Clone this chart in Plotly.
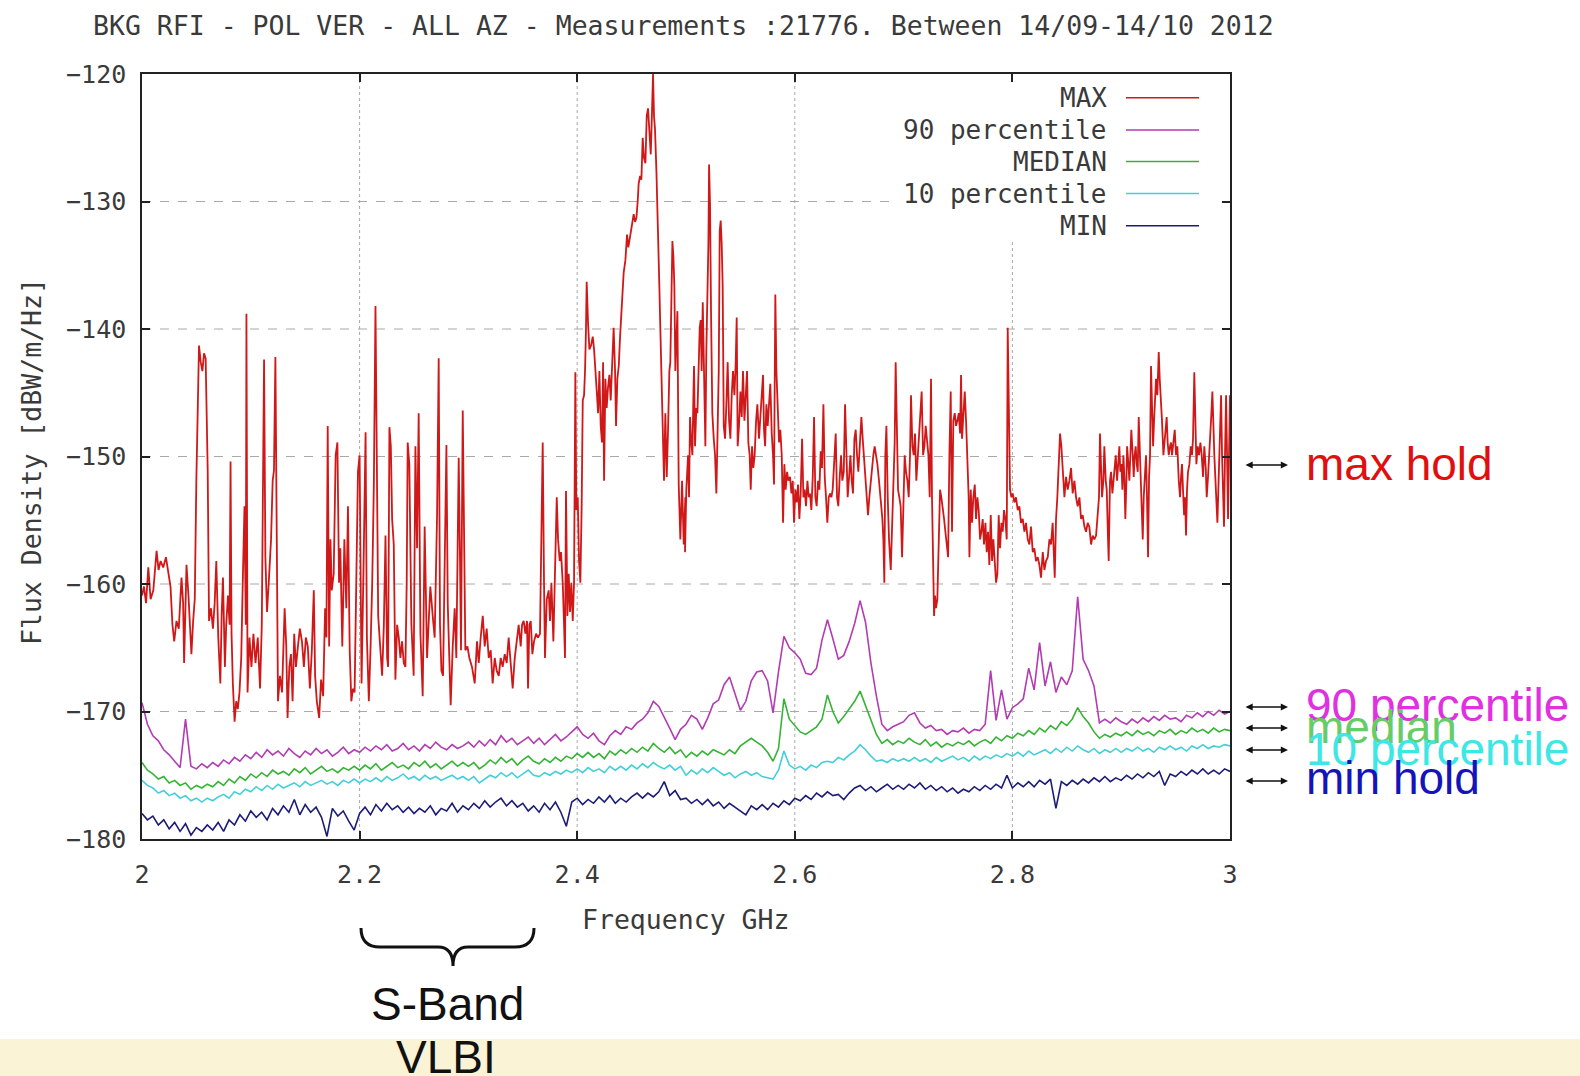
import plotly.graph_objects as go

# ---------------- data ----------------
MAX_F = [
 2.0000, 2.0018, 2.0037, 2.0058, 2.0079, 2.0104, 2.0134, 2.0152, 2.0171, 2.0195,
 2.0220, 2.0241, 2.0262, 2.0280, 2.0296, 2.0317, 2.0338, 2.0363, 2.0378, 2.0387,
 2.0409, 2.0427, 2.0439, 2.0454, 2.0470, 2.0485, 2.0500, 2.0515, 2.0524, 2.0540,
 2.0555, 2.0570, 2.0585, 2.0604, 2.0616, 2.0634, 2.0652, 2.0668, 2.0683, 2.0701,
 2.0720, 2.0732, 2.0744, 2.0762, 2.0774, 2.0790, 2.0805, 2.0814, 2.0823, 2.0835,
 2.0851, 2.0866, 2.0881, 2.0896, 2.0912, 2.0927, 2.0942, 2.0954, 2.0960, 2.0970,
 2.0988, 2.1006, 2.1024, 2.1043, 2.1064, 2.1085, 2.1101, 2.1110, 2.1122, 2.1134,
 2.1149, 2.1165, 2.1186, 2.1201, 2.1213, 2.1226, 2.1238, 2.1250, 2.1268, 2.1287,
 2.1311, 2.1326, 2.1338, 2.1354, 2.1369, 2.1384, 2.1399, 2.1415, 2.1433, 2.1451,
 2.1470, 2.1488, 2.1506, 2.1524, 2.1543, 2.1561, 2.1579, 2.1591, 2.1607, 2.1628,
 2.1646, 2.1665, 2.1683, 2.1695, 2.1707, 2.1720, 2.1732, 2.1744, 2.1762, 2.1780,
 2.1796, 2.1811, 2.1823, 2.1841, 2.1860, 2.1878, 2.1893, 2.1909, 2.1924, 2.1939,
 2.1954, 2.1970, 2.1985, 2.2000, 2.2009, 2.2018, 2.2037, 2.2055, 2.2067, 2.2085,
 2.2101, 2.2116, 2.2131, 2.2146, 2.2159, 2.2171, 2.2189, 2.2207, 2.2223, 2.2238,
 2.2253, 2.2262, 2.2274, 2.2287, 2.2299, 2.2314, 2.2329, 2.2345, 2.2360, 2.2375,
 2.2390, 2.2406, 2.2421, 2.2433, 2.2442, 2.2457, 2.2476,
 2.2497, 2.2513, 2.2528, 2.2543, 2.2559, 2.2580, 2.2598, 2.2620, 2.2635, 2.2650,
 2.2672, 2.2690, 2.2712, 2.2727, 2.2739, 2.2752, 2.2767, 2.2782, 2.2798, 2.2810,
 2.2825, 2.2837, 2.2856, 2.2874, 2.2889, 2.2911, 2.2923, 2.2932, 2.2948, 2.2960,
 2.2972, 2.2991, 2.3009, 2.3033, 2.3058, 2.3079, 2.3095, 2.3113, 2.3132, 2.3150,
 2.3168, 2.3187, 2.3205, 2.3223, 2.3242, 2.3260, 2.3279, 2.3297, 2.3315, 2.3334,
 2.3352, 2.3370, 2.3389, 2.3407, 2.3426, 2.3444, 2.3462, 2.3481, 2.3493, 2.3508,
 2.3524, 2.3539, 2.3548, 2.3560, 2.3573, 2.3588, 2.3603, 2.3622, 2.3640, 2.3658,
 2.3671, 2.3683, 2.3695, 2.3704, 2.3720, 2.3738, 2.3750, 2.3763, 2.3781, 2.3799,
 2.3812, 2.3824, 2.3839, 2.3851, 2.3867, 2.3879, 2.3888, 2.3897, 2.3910, 2.3922,
 2.3934, 2.3946, 2.3959, 2.3971, 2.3983, 2.3992, 2.4005, 2.4017, 2.4029, 2.4041,
 2.4051, 2.4063, 2.4072, 2.4081, 2.4087, 2.4100, 2.4112, 2.4127, 2.4143, 2.4155,
 2.4170, 2.4182, 2.4192, 2.4204, 2.4216, 2.4228, 2.4238, 2.4247, 2.4259, 2.4271,
 2.4283, 2.4296, 2.4308, 2.4320, 2.4335, 2.4348, 2.4357, 2.4369, 2.4382, 2.4394,
 2.4406, 2.4418, 2.4427, 2.4443, 2.4458, 2.4470, 2.4480, 2.4492, 2.4504, 2.4519,
 2.4532, 2.4544, 2.4556, 2.4565, 2.4578, 2.4590, 2.4602, 2.4614, 2.4627, 2.4639,
 2.4651, 2.4663, 2.4676, 2.4685, 2.4697, 2.4706, 2.4715, 2.4728, 2.4737, 2.4746,
 2.4755, 2.4764, 2.4774, 2.4786, 2.4798, 2.4810, 2.4823, 2.4835, 2.4847, 2.4856,
 2.4866, 2.4875, 2.4884, 2.4893, 2.4902, 2.4911, 2.4921, 2.4933, 2.4948, 2.4964, 2.4979, 2.4994,
 2.4991, 2.5003, 2.5019, 2.5028, 2.5037, 2.5049, 2.5059, 2.5068, 2.5074, 2.5083,
 2.5095, 2.5105, 2.5117, 2.5126, 2.5135, 2.5144, 2.5154, 2.5166, 2.5178, 2.5187,
 2.5196, 2.5206, 2.5212, 2.5221, 2.5230, 2.5242, 2.5255, 2.5267, 2.5279, 2.5291,
 2.5301, 2.5310, 2.5319, 2.5328, 2.5337, 2.5347, 2.5359, 2.5371, 2.5383, 2.5396,
 2.5408, 2.5420, 2.5432, 2.5445, 2.5457, 2.5466, 2.5475, 2.5487, 2.5500, 2.5512,
 2.5524, 2.5537, 2.5549, 2.5561, 2.5573, 2.5585, 2.5595, 2.5607, 2.5619, 2.5631,
 2.5644, 2.5656, 2.5671, 2.5687, 2.5699, 2.5708, 2.5717, 2.5727, 2.5739, 2.5751,
 2.5763, 2.5775, 2.5788, 2.5800, 2.5809, 2.5821, 2.5831, 2.5843, 2.5855, 2.5867,
 2.5880, 2.5892, 2.5904, 2.5916, 2.5929, 2.5941, 2.5956, 2.5969, 2.5981, 2.5993,
 2.6005, 2.6018, 2.6030, 2.6042, 2.6054, 2.6067, 2.6079, 2.6091, 2.6103, 2.6116,
 2.6128, 2.6140, 2.6152, 2.6165, 2.6177, 2.6189, 2.6201, 2.6214, 2.6226, 2.6238,
 2.6250, 2.6263, 2.6275, 2.6287, 2.6299, 2.6312, 2.6324, 2.6336, 2.6348, 2.6361,
 2.6376, 2.6388, 2.6400, 2.6413, 2.6425, 2.6437, 2.6450, 2.6462, 2.6474, 2.6486,
 2.6499, 2.6511, 2.6523, 2.6535, 2.6548, 2.6560, 2.6572, 2.6584, 2.6597, 2.6612,
 2.6624, 2.6636, 2.6649, 2.6661, 2.6673, 2.6685, 2.6698, 2.6710, 2.6722, 2.6734,
 2.6747, 2.6759, 2.6774, 2.6790, 2.6805, 2.6814, 2.6823, 2.6832, 2.6842, 2.6854,
 2.6866, 2.6882, 2.6894, 2.6906, 2.6918, 2.6927, 2.6937, 2.6949, 2.6961, 2.6973,
 2.6986, 2.6998, 2.7010, 2.7022, 2.7035, 2.7047, 2.7059, 2.7068, 2.7081, 2.7093,
 2.7105, 2.7117, 2.7130, 2.7142, 2.7154, 2.7166, 2.7179, 2.7191, 2.7203, 2.7215,
 2.7228, 2.7240, 2.7252, 2.7261, 2.7271, 2.7280, 2.7289, 2.7298, 2.7310, 2.7323,
 2.7335, 2.7347, 2.7360, 2.7372, 2.7384, 2.7396, 2.7409, 2.7421, 2.7433, 2.7445, 2.7457, 2.7470, 2.7482,
 2.7494, 2.7507, 2.7519, 2.7528, 2.7537, 2.7549, 2.7562, 2.7574, 2.7586, 2.7598,
 2.7605, 2.7617, 2.7629, 2.7641, 2.7654, 2.7666, 2.7678, 2.7690, 2.7703, 2.7715,
 2.7727, 2.7739, 2.7752, 2.7764, 2.7776, 2.7788, 2.7801, 2.7813, 2.7825, 2.7837,
 2.7850, 2.7862, 2.7874, 2.7886, 2.7899, 2.7911, 2.7923, 2.7935, 2.7948, 2.7957,
 2.7966, 2.7978, 2.7991, 2.8003, 2.8018, 2.8033, 2.8049, 2.8064, 2.8079, 2.8095,
 2.8110, 2.8125, 2.8141, 2.8156, 2.8171, 2.8187, 2.8202, 2.8217, 2.8233, 2.8248,
 2.8263, 2.8279, 2.8294, 2.8309, 2.8325, 2.8340, 2.8355, 2.8370, 2.8389, 2.8401,
 2.8413, 2.8426, 2.8438, 2.8450, 2.8462, 2.8478, 2.8493, 2.8508, 2.8524, 2.8539,
 2.8554, 2.8570, 2.8585, 2.8600, 2.8616, 2.8631, 2.8646, 2.8662, 2.8677, 2.8692,
 2.8707, 2.8723, 2.8738, 2.8753, 2.8769, 2.8784, 2.8796, 2.8805, 2.8815, 2.8824,
 2.8836, 2.8845, 2.8858, 2.8867, 2.8879, 2.8885, 2.8897, 2.8907, 2.8919, 2.8928,
 2.8940, 2.8950, 2.8962, 2.8971, 2.8983, 2.8992, 2.9002, 2.9011, 2.9020, 2.9029,
 2.9038, 2.9048, 2.9054, 2.9066, 2.9075, 2.9084, 2.9093, 2.9106, 2.9115, 2.9124,
 2.9133, 2.9143, 2.9152, 2.9161, 2.9173, 2.9185, 2.9198, 2.9207, 2.9216, 2.9228,
 2.9237, 2.9247, 2.9256, 2.9265, 2.9274, 2.9283, 2.9293, 2.9302, 2.9311, 2.9320,
 2.9332, 2.9345, 2.9354, 2.9363, 2.9375, 2.9388, 2.9397, 2.9406, 2.9418, 2.9427,
 2.9437, 2.9449, 2.9458, 2.9467, 2.9480, 2.9492, 2.9504, 2.9516, 2.9529, 2.9541,
 2.9550, 2.9559, 2.9568, 2.9578, 2.9587, 2.9596, 2.9605, 2.9614, 2.9627, 2.9639,
 2.9651, 2.9660, 2.9672, 2.9682, 2.9691, 2.9703, 2.9715, 2.9728, 2.9740, 2.9752,
 2.9764, 2.9777, 2.9786, 2.9798, 2.9810, 2.9820, 2.9829, 2.9838, 2.9847, 2.9856,
 2.9865, 2.9875, 2.9884, 2.9893, 2.9902, 2.9911, 2.9918, 2.9927, 2.9936, 2.9945, 2.9954, 2.9964, 2.9973, 2.9982, 2.9991, 3.0000,
]
MAX_DB = [
 -160.9, -160.2, -161.5, -158.7, -161.2, -160.5, -157.4, -158.9, -158.2, -158.7,
 -157.9, -159.2, -160.2, -163.2, -164.5, -162.9, -163.5, -159.5, -161.5, -166.2,
 -158.5, -160.9, -162.9, -165.5, -162.9, -161.2, -151.6, -143.3, -141.3, -142.6,
 -143.3, -141.9, -142.3, -151.2, -162.9, -161.9, -163.5, -161.5, -158.2, -164.2,
 -167.8, -162.5, -159.5, -166.5, -163.2, -160.9, -163.2, -150.4, -163.9, -167.8,
 -170.8, -169.2, -169.8, -168.5, -165.8, -159.5, -153.9, -163.2, -138.8, -168.5,
 -164.2, -166.5, -163.9, -166.2, -164.2, -168.2, -163.2, -154.2, -142.4, -157.9,
 -162.2, -159.9, -156.5, -151.9, -151.1, -142.2, -155.9, -169.2, -167.2, -168.5,
 -161.9, -164.9, -170.5, -166.5, -165.5, -169.2, -163.9, -166.5, -164.9, -163.5,
 -164.5, -166.5, -164.2, -164.9, -168.2, -165.2, -160.5, -167.2, -169.2, -170.5,
 -167.5, -168.8, -161.9, -164.2, -147.6, -164.9, -156.5, -160.5, -159.2, -149.9,
 -148.9, -159.9, -157.2, -164.9, -156.5, -161.9, -153.9, -165.2, -169.2, -168.2,
 -168.5, -160.5, -151.2, -149.9, -163.2, -167.8, -158.2, -148.1, -164.2, -169.2,
 -164.9, -159.9, -152.2, -138.2, -150.9, -162.5, -164.9, -167.2, -163.2, -156.2,
 -165.8, -166.5, -147.7, -149.2, -154.9, -156.9, -167.5, -163.2, -164.2, -165.8,
 -164.5, -166.2, -166.5, -159.9, -148.9, -150.6, -163.2,
 -167.2, -149.2, -157.2, -146.6, -163.9, -168.8, -155.5, -165.8, -162.5, -160.2,
 -162.5, -164.2, -154.6, -142.3, -163.2, -166.8, -167.2, -157.2, -149.1, -161.5,
 -165.8, -169.5, -164.9, -161.9, -165.8, -150.1, -158.2, -165.2, -146.4, -155.9,
 -165.2, -164.9, -165.8, -166.5, -167.8, -164.5, -166.2, -164.2, -162.5, -164.9,
 -163.5, -165.8, -165.2, -167.8, -165.8, -166.8, -167.2, -165.8, -166.5, -165.5,
 -166.2, -164.2, -166.5, -168.2, -165.8, -164.2, -163.2, -164.9, -163.2, -162.9,
 -163.9, -162.9, -168.2, -163.2, -162.9, -165.5, -164.5, -163.9, -164.2, -163.9,
 -155.2, -148.9, -159.9, -165.8, -161.2, -160.5, -162.9, -159.9, -164.5, -157.5,
 -153.2, -156.5, -158.2, -157.5, -159.9, -163.2, -165.8, -152.7, -162.5, -159.2,
 -162.2, -159.9, -162.9, -159.9, -143.4, -154.2, -153.2, -158.2, -159.9, -153.9,
 -145.6, -145.2, -143.3, -139.9, -136.3, -139.6, -141.6, -141.3, -140.6, -141.6,
 -143.3, -145.2, -146.6, -143.3, -147.6, -148.9, -142.6, -151.9, -143.9, -146.2,
 -144.6, -143.6, -145.6, -143.3, -139.9, -143.3, -147.6, -143.9, -142.9, -140.6,
 -138.6, -136.6, -135.6, -134.6, -132.6, -133.6, -133.1, -132.3, -132.0, -131.0,
 -131.6, -131.3, -130.0, -128.6, -128.0, -128.3, -125.0, -126.6, -127.0, -123.3,
 -122.7, -124.3, -126.3, -123.7, -120.0, -123.3, -124.3, -127.6, -130.0, -133.0,
 -136.6, -139.9, -143.3, -148.2, -151.9, -146.6, -151.6, -147.9, -143.3, -142.6,
 -136.6, -133.1, -134.3, -136.6, -143.3, -140.6, -138.6, -152.2, -156.5, -151.9, -156.9, -153.2,
 -157.5, -152.6, -149.9, -153.2, -146.9, -148.9, -149.9, -145.2, -142.9, -149.2,
 -146.2, -146.6, -141.3, -139.9, -139.3, -143.3, -137.9, -143.3, -149.2, -141.6,
 -138.6, -133.3, -127.1, -130.3, -138.6, -146.6, -148.6, -149.9, -152.9, -148.2,
 -143.3, -132.3, -131.5, -133.3, -136.6, -147.6, -148.6, -145.9, -142.6, -147.2,
 -148.6, -145.2, -143.3, -145.2, -142.6, -139.1, -149.2, -147.6, -144.9, -146.9,
 -143.3, -147.2, -145.2, -143.3, -148.9, -149.9, -152.6, -149.2, -150.9, -149.9,
 -147.2, -145.9, -148.6, -146.6, -145.2, -143.6, -147.9, -149.2, -145.9, -147.6,
 -145.9, -144.3, -148.2, -149.9, -152.2, -137.3, -143.3, -147.2, -148.9, -147.9,
 -149.9, -155.2, -150.6, -152.6, -151.2, -151.9, -151.6, -152.9, -151.9, -155.2,
 -152.6, -153.6, -152.2, -154.9, -152.9, -148.6, -153.2, -152.6, -153.9, -151.9,
 -153.2, -152.9, -154.2, -151.6, -146.9, -153.2, -153.9, -151.9, -152.6, -149.6,
 -150.9, -145.9, -151.6, -153.2, -155.2, -153.2, -152.9, -153.2, -152.6, -150.6,
 -148.2, -153.2, -153.9, -151.6, -149.9, -151.9, -151.2, -145.9, -149.9, -153.2,
 -151.6, -149.9, -151.9, -152.9, -148.6, -147.9, -149.9, -151.2, -149.2, -146.9,
 -148.6, -149.9, -151.9, -153.2, -154.6, -153.2, -151.9, -150.6, -149.9, -149.2,
 -149.9, -150.6, -151.9, -153.2, -154.9, -156.5, -159.9, -149.9, -147.6, -153.2,
 -156.5, -158.9, -154.9, -151.6, -148.9, -142.6, -148.2, -152.6, -153.2, -153.9,
 -157.9, -152.6, -149.9, -151.2, -151.9, -153.2, -149.9, -145.2, -149.2, -149.9,
 -148.2, -151.9, -149.9, -148.9, -146.6, -144.9, -149.9, -149.2, -147.6, -148.9,
 -149.9, -153.2, -143.9, -153.2, -158.2, -162.5, -160.9, -161.9, -161.2, -156.5,
 -152.6, -153.2, -153.9, -154.9, -155.9, -157.2, -157.9, -149.9, -144.9, -155.9, -147.2, -146.6, -147.6,
 -147.2, -146.6, -148.2, -143.6, -148.6, -146.6, -144.9, -147.2, -149.9, -153.2,
 -157.9, -152.6, -155.2, -153.2, -152.2, -154.9, -153.2, -154.2, -156.5, -155.9,
 -154.9, -156.9, -155.2, -157.5, -155.9, -158.5, -154.6, -158.2, -156.5, -157.9,
 -159.9, -159.2, -154.6, -157.2, -155.2, -155.9, -154.2, -154.9, -156.5, -139.9,
 -145.6, -152.6, -153.2, -152.9, -153.6, -153.2, -154.2, -153.9, -155.2, -154.9,
 -155.9, -155.2, -156.5, -156.9, -155.5, -157.5, -157.2, -158.2, -157.9, -158.5,
 -159.5, -157.5, -158.9, -158.2, -157.9, -156.5, -156.9, -155.2, -159.5, -154.9,
 -153.2, -150.6, -148.2, -149.2, -151.2, -153.2, -151.6, -152.6, -151.9, -150.9,
 -152.9, -151.9, -153.2, -153.9, -153.2, -154.9, -154.6, -155.5, -155.9, -155.2,
 -155.5, -156.9, -156.2, -156.5, -156.2, -154.6, -153.2, -148.2, -151.6, -153.2,
 -151.9, -149.2, -151.9, -152.6, -156.5, -158.2, -151.9, -151.2, -152.9, -151.9,
 -150.6, -149.9, -151.9, -150.9, -149.2, -151.2, -150.6, -152.6, -149.9, -151.6,
 -154.9, -151.9, -149.2, -150.6, -151.9, -149.9, -147.9, -149.9, -151.6, -149.9,
 -149.2, -150.6, -151.2, -146.9, -149.9, -151.6, -156.5, -153.2, -151.6, -149.9,
 -153.2, -157.9, -151.6, -149.9, -142.9, -146.6, -149.2, -147.2, -145.2, -143.9,
 -145.2, -141.8, -143.9, -145.9, -147.2, -149.9, -148.9, -148.2, -146.9, -148.9,
 -149.9, -149.2, -148.9, -149.9, -148.6, -147.9, -149.9, -149.2, -151.9, -153.2,
 -151.6, -150.6, -152.6, -154.6, -153.2, -156.2, -152.6, -151.2, -150.6, -149.2,
 -149.9, -148.6, -143.4, -148.2, -150.6, -149.2, -149.9, -148.9, -149.9, -151.6,
 -149.2, -150.9, -153.2, -151.6, -149.9, -148.2, -146.6, -144.9, -148.2, -149.9,
 -151.6, -153.2, -155.2, -152.6, -149.9, -146.6, -145.2, -149.9, -153.2, -155.5, -149.9, -145.2, -149.9, -154.9, -149.9, -145.2,
]

LOW_F = [
 2.000, 2.005, 2.010, 2.015, 2.020, 2.025, 2.030, 2.035, 2.040, 2.045, 2.050, 2.055, 2.060, 2.065, 2.070, 2.075, 2.080, 2.085, 2.090, 2.095,
 2.100, 2.105, 2.110, 2.115, 2.120, 2.125, 2.130, 2.135, 2.140, 2.145, 2.150, 2.155, 2.160, 2.165, 2.170, 2.175, 2.180, 2.185, 2.190, 2.195,
 2.200, 2.205, 2.210, 2.215, 2.220, 2.225, 2.230, 2.235, 2.240, 2.245, 2.250, 2.255, 2.260, 2.265, 2.270, 2.275, 2.280, 2.285, 2.290, 2.295,
 2.300, 2.305, 2.310, 2.315, 2.320, 2.325, 2.330, 2.335, 2.340, 2.345, 2.350, 2.355, 2.360, 2.365, 2.370, 2.375, 2.380, 2.385, 2.390, 2.395,
 2.400, 2.405, 2.410, 2.415, 2.420, 2.425, 2.430, 2.435, 2.440, 2.445, 2.450, 2.455, 2.460, 2.465, 2.470, 2.475, 2.480, 2.485, 2.490, 2.495,
 2.500, 2.505, 2.510, 2.515, 2.520, 2.525, 2.530, 2.535, 2.540, 2.545, 2.550, 2.555, 2.560, 2.565, 2.570, 2.575, 2.580, 2.585, 2.590, 2.595,
 2.600, 2.605, 2.610, 2.615, 2.620, 2.625, 2.630, 2.635, 2.640, 2.645, 2.650, 2.655, 2.660, 2.665, 2.670, 2.675, 2.680, 2.685, 2.690, 2.695,
 2.700, 2.705, 2.710, 2.715, 2.720, 2.725, 2.730, 2.735, 2.740, 2.745, 2.750, 2.755, 2.760, 2.765, 2.770, 2.775, 2.780, 2.785, 2.790, 2.795,
 2.800, 2.805, 2.810, 2.815, 2.820, 2.825, 2.830, 2.835, 2.840, 2.845, 2.850, 2.855, 2.860, 2.865, 2.870, 2.875, 2.880, 2.885, 2.890, 2.895,
 2.900, 2.905, 2.910, 2.915, 2.920, 2.925, 2.930, 2.935, 2.940, 2.945, 2.950, 2.955, 2.960, 2.965, 2.970, 2.975, 2.980, 2.985, 2.990, 2.995,
 3.000,
]
P90_DB = [
 -169.3, -171.0, -171.9, -172.3, -173.0, -173.4, -173.9, -174.4, -170.6, -174.3, -174.5, -174.1, -174.4, -174.0, -174.3, -173.8, -174.1, -173.6, -173.9, -173.4,
 -173.7, -173.2, -173.6, -173.0, -173.4, -173.1, -173.5, -172.9, -173.3, -173.6, -173.1, -173.4, -172.9, -173.3, -173.0, -173.5, -173.2, -172.8, -173.3, -173.0,
 -173.2, -172.8, -173.1, -172.7, -173.0, -172.6, -173.1, -172.9, -172.5, -173.0, -172.7, -173.1, -172.6, -172.9, -172.4, -172.8, -173.0, -172.6, -172.9, -172.7,
 -172.4, -172.8, -172.3, -172.7, -172.2, -172.6, -171.9, -172.4, -172.1, -172.6, -172.3, -172.0, -172.5, -172.1, -172.6, -172.2, -171.8, -172.3, -172.0, -171.6,
 -171.2, -171.8, -172.1, -171.7, -172.3, -172.6, -171.9, -171.5, -171.8, -171.2, -171.4, -170.9, -170.6, -170.1, -169.2, -169.6, -170.4, -171.3, -172.2, -171.4,
 -171.0, -170.3, -170.6, -171.4, -170.5, -169.4, -169.1, -167.9, -167.3, -168.6, -169.9, -169.2, -167.6, -166.9, -166.8, -167.6, -170.1, -166.9, -164.1, -165.0,
 -165.4, -165.9, -167.0, -167.1, -166.6, -164.4, -162.8, -164.3, -165.9, -165.6, -164.5, -163.1, -161.3, -163.0, -166.2, -168.8, -171.0, -171.5, -171.2, -171.0,
 -170.8, -170.3, -170.1, -170.9, -171.3, -171.1, -171.5, -171.4, -171.8, -171.5, -171.6, -171.3, -171.7, -171.4, -171.5, -171.0, -166.8, -170.7, -168.3, -170.6,
 -169.7, -169.4, -169.0, -166.6, -168.3, -164.6, -168.0, -166.1, -168.5, -167.3, -167.9, -166.8, -161.0, -165.9, -166.8, -168.0, -170.9, -170.6, -170.9, -170.5,
 -170.8, -171.0, -170.6, -170.9, -170.5, -170.8, -170.4, -170.7, -170.3, -170.6, -170.5, -170.8, -170.3, -170.5, -170.1, -170.4, -170.0, -170.3, -169.9, -170.2,
 -170.0,
]
MED_DB = [
 -174.0, -174.6, -174.9, -175.3, -175.1, -175.6, -175.4, -175.8, -175.6, -176.1, -175.8, -176.0, -175.7, -175.9, -175.5, -175.8, -175.3, -175.6, -175.1, -175.4,
 -174.9, -175.2, -174.8, -175.1, -174.6, -174.9, -174.7, -175.0, -174.5, -174.8, -174.4, -174.9, -174.6, -174.3, -174.7, -174.5, -174.8, -174.4, -174.6, -174.3,
 -174.6, -174.2, -174.5, -174.1, -174.6, -174.3, -174.0, -174.4, -174.2, -174.5, -174.0, -174.3, -173.9, -174.4, -174.1, -174.5, -174.2, -173.9, -174.3, -174.0,
 -174.3, -174.0, -174.5, -174.2, -173.8, -174.1, -173.6, -174.0, -173.7, -174.2, -173.8, -173.5, -173.9, -174.1, -173.7, -174.0, -173.6, -173.9, -173.5, -173.7,
 -173.3, -173.6, -173.2, -173.6, -173.3, -173.7, -173.1, -173.4, -173.0, -173.3, -172.9, -173.2, -172.8, -173.1, -172.5, -172.9, -173.2, -172.8, -173.3, -173.0,
 -173.6, -173.2, -173.5, -173.1, -173.4, -173.0, -173.2, -173.4, -173.0, -173.3, -172.7, -172.4, -172.1, -172.4, -172.7, -173.2, -173.9, -172.9, -169.0, -170.6,
 -171.1, -171.6, -171.8, -171.5, -171.2, -170.6, -168.7, -170.0, -170.9, -170.4, -169.8, -169.2, -168.4, -169.5, -170.6, -171.8, -172.5, -172.2, -172.6, -172.3,
 -172.5, -172.1, -172.4, -172.6, -172.2, -172.7, -172.4, -172.8, -172.5, -172.7, -172.4, -172.6, -172.3, -172.7, -172.4, -172.2, -172.5, -172.0, -172.3, -171.9,
 -172.1, -171.7, -171.9, -171.5, -171.8, -171.3, -171.6, -171.1, -171.4, -170.8, -171.1, -170.6, -169.7, -170.4, -170.9, -171.6, -172.1, -171.8, -172.0, -171.7,
 -171.9, -171.6, -171.9, -171.5, -171.8, -171.6, -171.9, -171.5, -171.7, -171.4, -171.8, -171.5, -171.7, -171.3, -171.6, -171.4, -171.7, -171.3, -171.6, -171.4,
 -171.5,
]
P10_DB = [
 -175.4, -175.8, -176.0, -176.4, -176.2, -176.6, -176.4, -176.8, -176.6, -177.0, -176.8, -177.1, -176.8, -177.0, -176.7, -176.5, -176.8, -176.3, -176.5, -176.1,
 -176.3, -175.9, -176.2, -175.8, -176.1, -175.7, -176.0, -175.8, -175.6, -175.9, -175.5, -175.8, -175.6, -175.4, -175.7, -175.5, -175.8, -175.4, -175.6, -175.3,
 -175.6, -175.3, -175.5, -175.2, -175.5, -175.1, -175.4, -175.2, -174.9, -175.3, -175.1, -175.4, -175.0, -175.3, -175.1, -175.4, -175.2, -175.0, -175.3, -175.1,
 -175.4, -175.1, -175.6, -175.3, -175.0, -175.2, -174.8, -175.1, -174.8, -175.2, -174.9, -174.6, -175.0, -175.1, -174.8, -175.0, -174.7, -174.9, -174.6, -174.8,
 -174.5, -174.8, -174.4, -174.7, -174.5, -174.8, -174.3, -174.6, -174.3, -174.6, -174.2, -174.5, -174.1, -174.4, -174.0, -174.3, -174.5, -174.2, -174.6, -174.3,
 -175.0, -174.6, -174.9, -174.5, -174.8, -174.4, -174.7, -175.0, -174.8, -175.2, -174.9, -174.7, -175.0, -174.8, -175.1, -175.2, -175.3, -174.6, -173.1, -174.2,
 -174.5, -174.3, -174.6, -174.2, -174.4, -174.0, -173.9, -174.0, -173.6, -173.8, -173.4, -173.1, -172.6, -173.0, -173.5, -173.9, -173.8, -174.0, -173.7, -173.9,
 -173.7, -173.9, -173.6, -173.9, -173.7, -174.0, -173.6, -173.9, -173.7, -173.5, -173.8, -173.6, -173.9, -173.5, -173.8, -173.5, -173.7, -173.4, -173.6, -173.3,
 -173.5, -173.2, -173.5, -173.1, -173.4, -173.2, -173.0, -173.3, -172.9, -173.2, -172.8, -173.1, -172.7, -173.0, -173.2, -172.9, -173.3, -173.0, -173.2, -172.9,
 -173.2, -172.9, -173.1, -172.8, -173.1, -172.9, -173.2, -172.8, -173.0, -172.7, -173.0, -172.8, -173.1, -172.7, -172.9, -172.6, -172.9, -172.7, -172.8, -172.6,
 -172.7,
]
MIN_DB = [
 -178.0, -178.5, -178.2, -178.9, -178.5, -179.2, -178.7, -179.4, -178.8, -179.7, -179.1, -179.4, -178.9, -179.3, -178.7, -179.4, -178.5, -178.9, -178.1, -178.6,
 -177.8, -178.3, -177.9, -178.5, -177.6, -178.1, -177.4, -177.9, -176.9, -178.1, -177.3, -177.9, -177.5, -178.3, -179.8, -177.6, -178.2, -177.8, -178.6, -179.3,
 -178.0, -177.5, -178.1, -177.3, -177.8, -177.2, -177.7, -177.4, -177.9, -177.5, -178.0, -177.6, -177.9, -177.4, -178.1, -177.6, -177.8, -177.2, -177.9, -177.4,
 -177.7, -177.2, -177.6, -177.0, -177.5, -177.1, -176.8, -177.4, -177.0, -177.5, -177.2, -177.8, -177.4, -177.9, -177.2, -177.7, -177.1, -177.9, -179.0, -177.1,
 -176.8, -177.3, -176.9, -177.2, -176.7, -177.1, -176.6, -177.2, -176.8, -177.1, -176.7, -176.4, -176.8, -176.4, -176.7, -176.3, -175.5, -176.6, -176.2, -176.9,
 -176.8, -177.2, -176.9, -177.3, -176.9, -177.4, -177.1, -177.6, -177.2, -177.5, -177.8, -178.1, -177.4, -177.7, -177.3, -177.7, -177.2, -177.5, -177.0, -177.3,
 -176.8, -177.0, -176.6, -176.9, -176.4, -176.7, -176.3, -176.6, -176.5, -176.9, -176.4, -176.0, -175.8, -176.2, -175.9, -176.3, -176.0, -175.7, -176.1, -175.8,
 -176.1, -175.7, -176.0, -175.6, -176.1, -175.8, -176.2, -175.9, -176.3, -176.0, -176.4, -176.1, -176.3, -175.9, -176.2, -175.8, -176.1, -175.7, -176.0, -175.0,
 -176.0, -175.6, -175.9, -175.5, -175.9, -175.4, -175.7, -175.3, -177.6, -175.5, -175.8, -175.4, -175.7, -175.3, -175.6, -175.2, -175.5, -175.1, -175.5, -175.2,
 -175.4, -175.0, -175.3, -174.9, -175.2, -174.8, -175.1, -174.7, -175.8, -174.9, -175.1, -174.7, -175.0, -174.6, -174.9, -174.5, -174.9, -174.6, -174.9, -174.5,
 -174.7,
]

SERIES_NAMES = ["MAX", "90 percentile", "MEDIAN", "10 percentile", "MIN"]
X_TICKS = [2.0, 2.2, 2.4, 2.6, 2.8, 3.0]
X_TICK_TEXT = ["2", "2.2", "2.4", "2.6", "2.8", "3"]
Y_TICKS = [-180, -170, -160, -150, -140, -130, -120]
SIDE_LABELS = ["max hold", "90 percentile", "median", "10 percentile", "min hold"]
TITLE = "BKG RFI - POL VER - ALL AZ - Measurements :21776. Between 14/09-14/10 2012"

# ---------------- styling ----------------
COLORS = ["#d01818", "#b23cb2", "#34b434", "#44cfd8", "#1c1c78"]
WIDTHS = [1.8, 1.6, 1.6, 1.6, 1.6]
SIDE_COLORS = ["#e01010", "#e030e0", "#66cc66", "#3ee6e6", "#1414b8"]
MONO = "DejaVu Sans Mono"
SANS = "Liberation Sans, Arial, sans-serif"
TXT = "#3a3a3a"
GRID = "#a8a8a8"

W, H = 1580, 1076
L, R, T, B = 142, 1230, 74, 839      # plot area in pixels
KEY_LEFT, KEY_BOTTOM = 893, 240      # opaque key region (pixels)


def px(x):
    return (x - L) / (R - L)


def py(y):
    return (B - y) / (B - T)


fig = go.Figure()
series = [(MAX_F, MAX_DB), (LOW_F, P90_DB), (LOW_F, MED_DB), (LOW_F, P10_DB), (LOW_F, MIN_DB)]
for (xs, ys), name, col, wd in zip(series, SERIES_NAMES, COLORS, WIDTHS):
    fig.add_trace(go.Scatter(x=xs, y=ys, mode="lines", name=name,
                             line=dict(color=col, width=wd), showlegend=False,
                             hoverinfo="skip"))

shapes = []
annotations = []

# beige band at the bottom of the page
shapes.append(dict(type="rect", xref="paper", yref="paper",
                   x0=px(0), x1=px(W), y0=py(1039), y1=py(H + 5),
                   fillcolor="#fbf3d6", line=dict(width=0), layer="below"))

# grid lines (stop at the key box like gnuplot)
y_top = Y_TICKS[-1]
for v in Y_TICKS[1:-1]:
    x_end = px(KEY_LEFT) if py(KEY_BOTTOM) < (v - Y_TICKS[0]) / (y_top - Y_TICKS[0]) else 1
    shapes.append(dict(type="line", xref="paper", yref="y", x0=0, x1=x_end, y0=v, y1=v,
                       line=dict(color=GRID, width=1, dash="dash"), layer="below"))
for f in X_TICKS[1:-1]:
    y_end = py(KEY_BOTTOM) if (f - X_TICKS[0]) / (X_TICKS[-1] - X_TICKS[0]) > px(KEY_LEFT) else 1
    shapes.append(dict(type="line", xref="x", yref="paper", x0=f, x1=f, y0=0, y1=y_end,
                       line=dict(color=GRID, width=1, dash="dot"), layer="below"))

# key
key_rows = [97.7, 130, 161.5, 193.5, 225.7]
for name, col, yy in zip(SERIES_NAMES, COLORS, key_rows):
    annotations.append(dict(xref="paper", yref="paper", x=px(1109), y=py(yy),
                            xanchor="right", yanchor="middle", showarrow=False,
                            text=name, font=dict(family=MONO, size=26, color=TXT)))
    shapes.append(dict(type="line", xref="paper", yref="paper",
                       x0=px(1126), x1=px(1199), y0=py(yy), y1=py(yy),
                       line=dict(color=col, width=1.5)))

# title and axis titles
annotations.append(dict(xref="paper", yref="paper", x=px(683), y=py(25),
                        xanchor="center", yanchor="middle", showarrow=False,
                        text=TITLE, font=dict(family=MONO, size=26.5, color=TXT)))
annotations.append(dict(xref="paper", yref="paper", x=px(685), y=py(919),
                        xanchor="center", yanchor="middle", showarrow=False,
                        text="Frequency GHz", font=dict(family=MONO, size=26.5, color=TXT)))
annotations.append(dict(xref="paper", yref="paper", x=px(31), y=py(462),
                        xanchor="center", yanchor="middle", showarrow=False, textangle=-90,
                        text="Flux Density [dBW/m/Hz]", font=dict(family=MONO, size=26.5, color=TXT)))

# side labels with double arrows
side_text_y = [463.5, 705, 727, 748.5, 778]
side_arrow_y = [465, 707, 728, 750, 781]
for lab, col, ty, ay in zip(SIDE_LABELS, SIDE_COLORS, side_text_y, side_arrow_y):
    annotations.append(dict(xref="paper", yref="paper", x=px(1288), y=py(ay),
                            ax=-44, ay=0, axref="pixel", ayref="pixel",
                            showarrow=True, arrowside="end+start", arrowhead=2,
                            arrowsize=0.9, arrowwidth=1.6, arrowcolor="#111111", text=""))
    annotations.append(dict(xref="paper", yref="paper", x=px(1304), y=py(ty),
                            xanchor="left", yanchor="middle", showarrow=False,
                            text=lab, font=dict(family=SANS, size=46, color=col)))

# S-Band brace and label
bx = [361, 380, 438, 453, 468, 515, 534]
by_top, by_mid, by_tip = 928, 947, 966
path = (f"M {px(bx[0])},{py(by_top)} Q {px(bx[0])},{py(by_mid)} {px(bx[1])},{py(by_mid)} "
        f"L {px(bx[2])},{py(by_mid)} Q {px(bx[3])},{py(by_mid)} {px(bx[3])},{py(by_tip)} "
        f"Q {px(bx[3])},{py(by_mid)} {px(bx[4])},{py(by_mid)} "
        f"L {px(bx[5])},{py(by_mid)} Q {px(bx[6])},{py(by_mid)} {px(bx[6])},{py(by_top)}")
shapes.append(dict(type="path", xref="paper", yref="paper", path=path,
                   line=dict(color="#111111", width=3)))
annotations.append(dict(xref="paper", yref="paper", x=px(447), y=py(1004),
                        xanchor="center", yanchor="middle", showarrow=False,
                        text="S-Band", font=dict(family=SANS, size=46, color="#111111")))
annotations.append(dict(xref="paper", yref="paper", x=px(446), y=py(1057),
                        xanchor="center", yanchor="middle", showarrow=False,
                        text="VLBI", font=dict(family=SANS, size=46, color="#111111")))

fig.update_layout(
    width=W, height=H,
    margin=dict(l=L, r=W - R, t=T, b=H - B, autoexpand=False),
    paper_bgcolor="white", plot_bgcolor="white",
    showlegend=False,
    shapes=shapes, annotations=annotations,
    font=dict(family=MONO, size=25, color=TXT),
)
fig.update_xaxes(range=[2.0, 3.0], tickvals=X_TICKS, ticktext=X_TICK_TEXT,
                 showgrid=False,
                 showline=True, linecolor="#222222", linewidth=1.5, mirror="allticks",
                 ticks="inside", ticklen=8, tickwidth=1.5, tickcolor="#222222",
                 tickfont=dict(family=MONO, size=25, color=TXT), ticklabelstandoff=12,
                 zeroline=False, automargin=False)
fig.update_yaxes(range=[-180, -120], tickvals=Y_TICKS,
                 showgrid=False,
                 showline=True, linecolor="#222222", linewidth=1.5, mirror="allticks",
                 ticks="inside", ticklen=8, tickwidth=1.5, tickcolor="#222222",
                 tickfont=dict(family=MONO, size=25, color=TXT), ticklabelstandoff=9,
                 zeroline=False, automargin=False)

fig.write_html("out.html")
